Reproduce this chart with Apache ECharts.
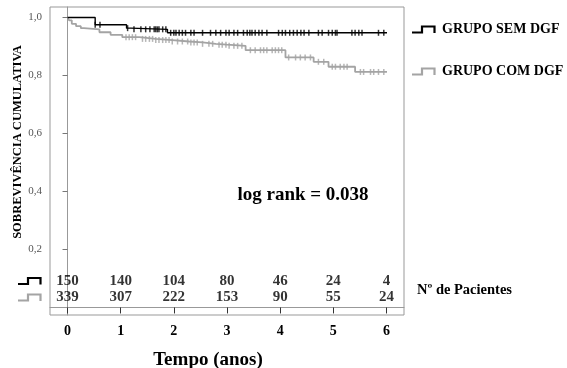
<!DOCTYPE html>
<html>
<head>
<meta charset="utf-8">
<script src="https://cdn.jsdelivr.net/npm/echarts@6/dist/echarts.min.js"></script>
<style>
  html, body { margin: 0; padding: 0; background: #fff; }
  #chart { width: 567px; height: 368px; }
</style>
</head>
<body>
<div id="chart"></div>
<script>
// Kaplan-Meier steps (tempo em anos, sobrevivência)
const semTimes = [0, 0.52, 1.11, 1.19, 1.88, 6.01];
const semSurv = [1.0, 0.975, 0.963, 0.959, 0.947, 0.947];
const comTimes = [0, 0.03, 0.08, 0.16, 0.25, 0.31, 0.6, 0.81, 1.03, 1.35, 1.66, 1.97, 2.29, 2.54, 2.79, 3.0, 3.35, 4.1, 4.63, 4.91, 5.41, 6.01];
const comSurv = [1.0, 0.99, 0.978, 0.97, 0.963, 0.959, 0.949, 0.94, 0.932, 0.926, 0.922, 0.917, 0.914, 0.909, 0.906, 0.902, 0.887, 0.862, 0.847, 0.83, 0.812, 0.812];

// censored observations
const semCens = [0.52, 0.61, 1.13, 1.25, 1.38, 1.47, 1.55, 1.63, 1.66, 1.69, 1.72, 1.79, 1.85, 1.94, 2.0, 2.04, 2.1, 2.16, 2.22, 2.32, 2.38, 2.54, 2.69, 2.79, 2.88, 2.98, 3.04, 3.13, 3.2, 3.31, 3.38, 3.43, 3.47, 3.53, 3.6, 3.66, 3.75, 3.97, 4.04, 4.1, 4.18, 4.25, 4.32, 4.39, 4.45, 4.54, 4.72, 4.79, 4.91, 4.98, 5.04, 5.07, 5.35, 5.41, 5.48, 5.54, 5.85, 5.95];
const comCens = [1.1, 1.16, 1.22, 1.28, 1.41, 1.47, 1.54, 1.6, 1.66, 1.72, 1.79, 1.85, 1.91, 1.97, 2.07, 2.16, 2.26, 2.32, 2.38, 2.44, 2.54, 2.66, 2.73, 2.85, 2.91, 2.98, 3.04, 3.13, 3.2, 3.28, 3.44, 3.53, 3.63, 3.69, 3.75, 3.85, 3.91, 3.97, 4.03, 4.16, 4.29, 4.38, 4.47, 4.57, 4.72, 4.82, 4.98, 5.04, 5.13, 5.2, 5.26, 5.51, 5.57, 5.7, 5.76, 5.85, 5.95];

// número em risco
const riskYears = [0, 1, 2, 3, 4, 5, 6];
const riskSem = [150, 140, 104, 80, 46, 24, 4];
const riskCom = [339, 307, 222, 153, 90, 55, 24];

const yTicks = [0.2, 0.4, 0.6, 0.8, 1.0];
const xTicks = [0, 1, 2, 3, 4, 5, 6];

const seriesNames = ["GRUPO SEM DGF", "GRUPO COM DGF"];

const FONT = '"Liberation Serif", "Times New Roman", serif';
const BLACK = "#000";
const GRAY = "#a4a4a4";

const survAt = (times, surv, t) => {
  let v = surv[0];
  for (let i = 0; i < times.length; i++) {
    if (times[i] <= t) v = surv[i];
  }
  return v;
};

// little step glyph used in the legend and in the risk table
const stepIcon = (x, y, color) => ({
  type: "polyline",
  shape: { points: [[x, y + 6], [x + 10, y + 6], [x + 10, y], [x + 22.5, y], [x + 22.5, y + 6.5]] },
  style: { stroke: color, lineWidth: 2.2, fill: null },
});

const boldText = (text, x, y, size, align) => ({
  type: "text",
  x: x,
  y: y,
  style: {
    text: text,
    fontFamily: FONT,
    fontWeight: "bold",
    fontSize: size,
    fill: "#000",
    align: align || "center",
    verticalAlign: "middle",
  },
});

const riskLabel = {
  show: true,
  position: "inside",
  formatter: (p) => p.value[2],
  fontFamily: FONT,
  fontWeight: "bold",
  fontSize: 15,
  color: "#000",
};

const chart = echarts.init(document.getElementById("chart"), null, { renderer: "canvas" });

const option = {
  animation: false,
  backgroundColor: "#fff",
  grid: {
    left: 50,
    top: 7,
    width: 354,
    height: 308,
    show: true,
    borderColor: "#999",
    borderWidth: 1,
  },
  xAxis: {
    type: "value",
    min: -0.33,
    max: 6.33,
    splitLine: { show: false },
    axisLine: { show: true, lineStyle: { color: "#999" } },
    axisTick: {
      show: true,
      customValues: xTicks,
      length: 6,
      lineStyle: { color: "#333" },
    },
    axisLabel: {
      customValues: xTicks,
      margin: 9,
      fontFamily: FONT,
      fontWeight: "bold",
      fontSize: 14,
      color: "#000",
    },
  },
  yAxis: {
    type: "value",
    min: -0.026,
    max: 1.036,
    splitLine: { show: false },
    axisLine: { show: true, lineStyle: { color: "#999" } },
    axisTick: {
      show: true,
      customValues: yTicks,
      length: 5,
      lineStyle: { color: "#777" },
    },
    axisLabel: {
      customValues: yTicks,
      margin: 8,
      fontFamily: FONT,
      fontSize: 11,
      color: "#555",
      formatter: (v) => v.toFixed(1).replace(".", ","),
    },
  },
  series: [
    {
      name: seriesNames[0],
      type: "line",
      step: "end",
      showSymbol: false,
      z: 4,
      color: BLACK,
      lineStyle: { color: BLACK, width: 1.4 },
      data: semTimes.map((t, i) => [t, semSurv[i]]),
    },
    {
      name: seriesNames[1],
      type: "line",
      step: "end",
      showSymbol: false,
      z: 3,
      color: GRAY,
      lineStyle: { color: GRAY, width: 1.8 },
      data: comTimes.map((t, i) => [t, comSurv[i]]),
    },
    {
      name: "cens sem",
      type: "scatter",
      symbol: "rect",
      symbolSize: [1.5, 6],
      z: 5,
      itemStyle: { color: BLACK },
      data: semCens.map((t) => [t, survAt(semTimes, semSurv, t)]),
    },
    {
      name: "cens com",
      type: "scatter",
      symbol: "rect",
      symbolSize: [1.5, 6],
      z: 3,
      itemStyle: { color: GRAY },
      data: comCens.map((t) => [t, survAt(comTimes, comSurv, t)]),
    },
    // tabela de pacientes em risco
    {
      name: "risco sem",
      type: "scatter",
      symbolSize: 0,
      silent: true,
      label: riskLabel,
      data: riskYears.map((t, i) => [t, 0.091, riskSem[i]]),
    },
    {
      name: "risco com",
      type: "scatter",
      symbolSize: 0,
      silent: true,
      label: riskLabel,
      data: riskYears.map((t, i) => [t, 0.035, riskCom[i]]),
    },
  ],
  graphic: [
    {
      type: "text",
      x: 18,
      y: 142,
      rotation: Math.PI / 2,
      style: {
        text: "SOBREVIVÊNCIA CUMULATIVA",
        fontFamily: FONT,
        fontWeight: "bold",
        fontSize: 12.5,
        fill: "#000",
        align: "center",
        verticalAlign: "middle",
      },
    },
    boldText("Tempo (anos)", 208, 360, 19),
    boldText("log rank = 0.038", 303, 195, 19),
    boldText("Nº de Pacientes", 417, 290, 14.5, "left"),
    // legenda
    stepIcon(412, 26.5, BLACK),
    boldText(seriesNames[0], 442, 29.5, 14, "left"),
    stepIcon(412, 68.5, GRAY),
    boldText(seriesNames[1], 442, 71.5, 14, "left"),
    // ícones da tabela
    stepIcon(18, 278, BLACK),
    stepIcon(18, 294.5, GRAY),
  ],
};

chart.setOption(option);
</script>
</body>
</html>
